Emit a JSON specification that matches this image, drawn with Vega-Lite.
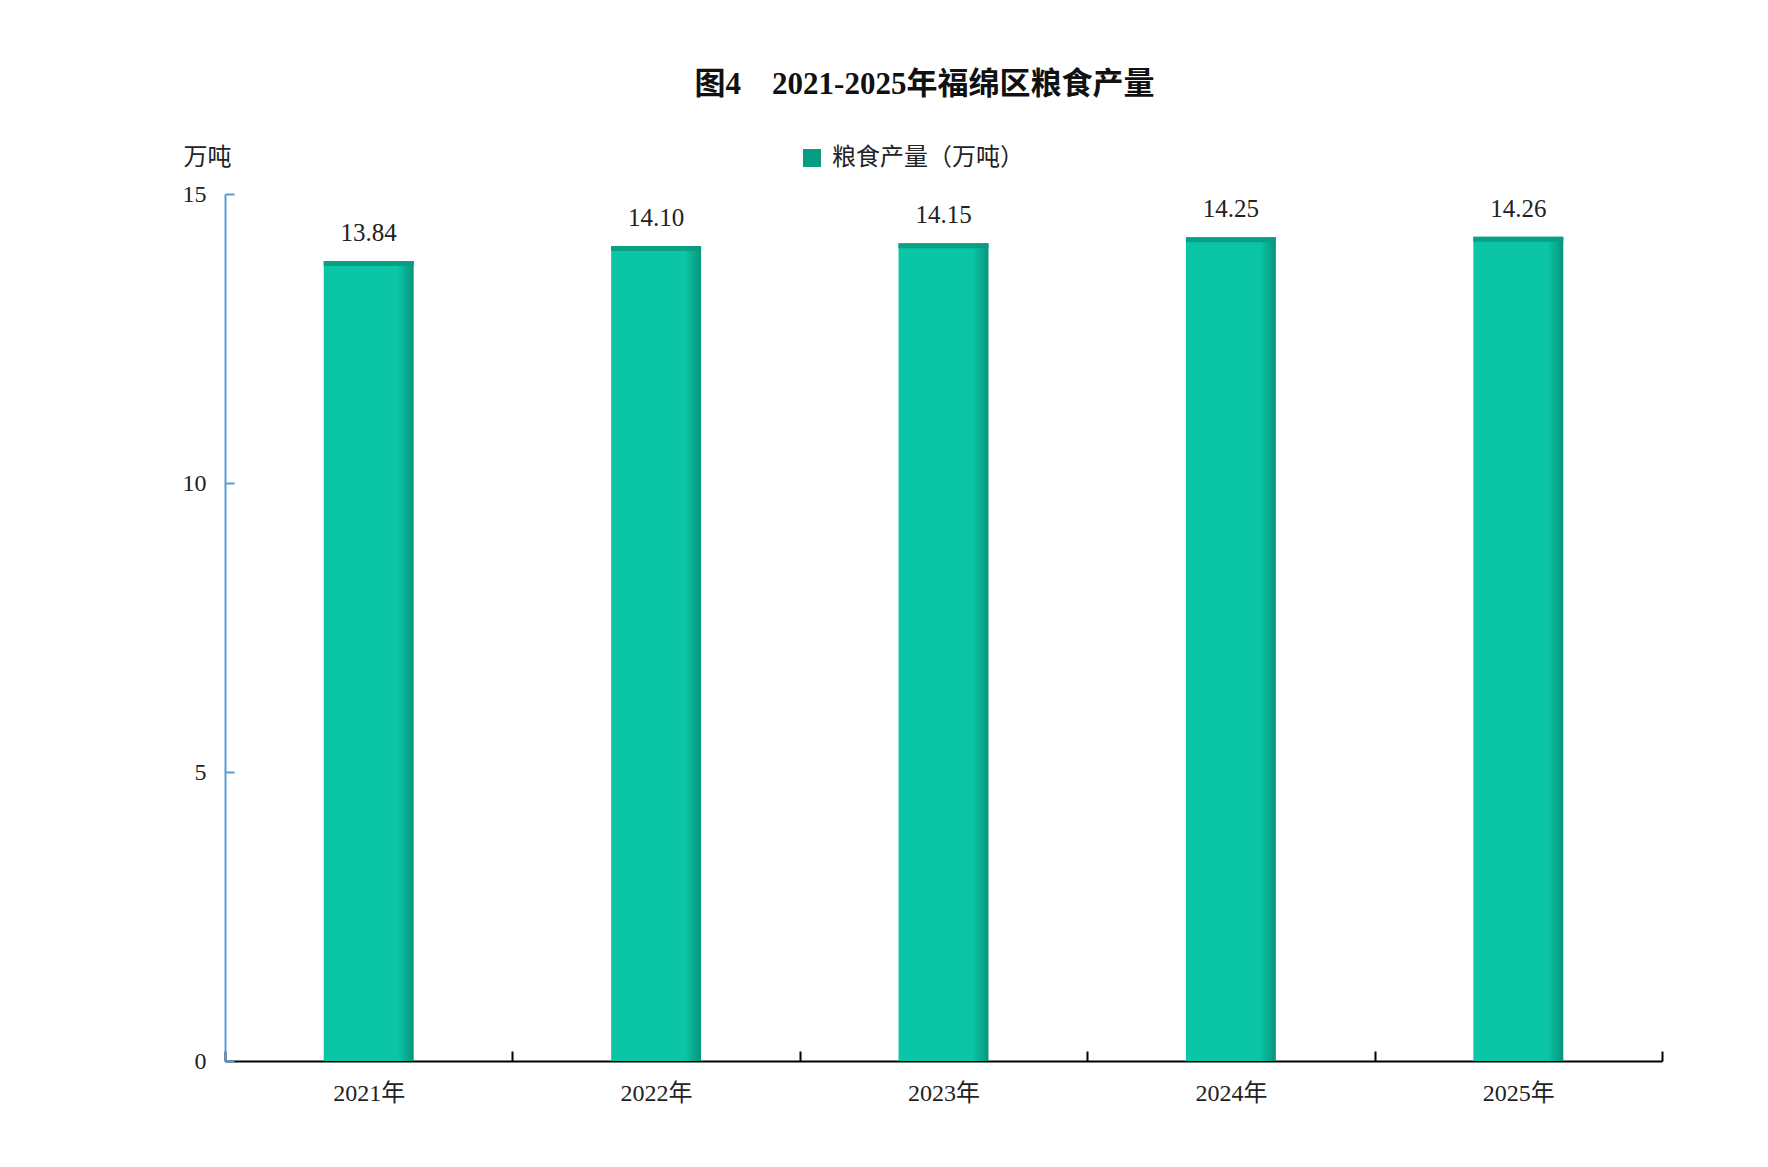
{
  "$schema": "https://vega.github.io/schema/vega-lite/v6.json",
  "autosize": {"type": "none"},
  "width": 1437,
  "height": 867,
  "padding": {"left": 225, "top": 194, "right": 106, "bottom": 106},
  "background": "white",
  "config": {"view": {"stroke": null}},
  "title": {
    "text": "图4　2021-2025年福绵区粮食产量",
    "font": "Liberation Serif, Noto Sans CJK SC",
    "fontSize": 31,
    "fontWeight": "bold",
    "color": "#111111",
    "anchor": "middle",
    "dx": -19,
    "offset": 44
  },
  "data": {
    "values": [
      {"year": "2021年", "output": 13.84, "series": "粮食产量（万吨）"},
      {"year": "2022年", "output": 14.10, "series": "粮食产量（万吨）"},
      {"year": "2023年", "output": 14.15, "series": "粮食产量（万吨）"},
      {"year": "2024年", "output": 14.25, "series": "粮食产量（万吨）"},
      {"year": "2025年", "output": 14.26, "series": "粮食产量（万吨）"}
    ]
  },
  "encoding": {
    "x": {
      "field": "year",
      "type": "nominal",
      "sort": null,
      "title": null,
      "scale": {"paddingInner": 0, "paddingOuter": 0},
      "axis": {
        "labelAngle": 0,
        "labelFont": "Liberation Serif, Noto Sans CJK SC",
        "labelFontSize": 24,
        "labelColor": "#222222",
        "labelPadding": 30,
        "domainColor": "#000000",
        "domainWidth": 2,
        "tickColor": "#000000",
        "tickWidth": 2,
        "tickSize": -10,
        "tickBand": "extent"
      }
    },
    "y": {
      "field": "output",
      "type": "quantitative",
      "scale": {"domain": [0, 15], "nice": false},
      "title": "万吨",
      "axis": {
        "values": [0, 5, 10, 15],
        "grid": false,
        "labelFont": "Liberation Serif, Noto Sans CJK SC",
        "labelFontSize": 24,
        "labelColor": "#222222",
        "labelPadding": 28,
        "domainColor": "#5B9BD5",
        "domainWidth": 2,
        "tickColor": "#5B9BD5",
        "tickWidth": 2,
        "tickSize": -9,
        "titleFont": "Noto Sans CJK SC",
        "titleFontSize": 24,
        "titleFontWeight": "normal",
        "titleColor": "#222222",
        "titleAngle": 0,
        "titleAlign": "center",
        "titleBaseline": "middle",
        "titleX": -18,
        "titleY": -37
      }
    }
  },
  "layer": [
    {
      "mark": {
        "type": "bar",
        "width": {"band": 0.313},
        "fill": {
          "gradient": "linear",
          "x1": 0, "y1": 0, "x2": 1, "y2": 0,
          "stops": [
            {"offset": 0, "color": "#0BC6A6"},
            {"offset": 0.82, "color": "#0BC6A6"},
            {"offset": 1, "color": "#07957C"}
          ]
        }
      }
    },
    {
      "mark": {"type": "tick", "thickness": 5, "size": 90, "yOffset": 2.5, "opacity": 0.9},
      "encoding": {
        "color": {
          "field": "series",
          "type": "nominal",
          "scale": {"range": ["#089C82"]},
          "legend": {
            "orient": "none",
            "legendX": 575,
            "legendY": -48,
            "title": null,
            "symbolType": "square",
            "symbolSize": 324,
            "symbolStrokeWidth": 0,
            "symbolOpacity": 1,
            "labelFont": "Noto Sans CJK SC",
            "labelFontSize": 24,
            "labelColor": "#222222",
            "labelOffset": 8,
            "labelLimit": 0
          }
        }
      }
    },
    {
      "mark": {
        "type": "text",
        "baseline": "alphabetic",
        "dy": -20,
        "font": "Liberation Serif",
        "fontSize": 25,
        "color": "#222222"
      },
      "encoding": {
        "text": {"field": "output", "type": "quantitative", "format": ".2f"}
      }
    }
  ]
}
